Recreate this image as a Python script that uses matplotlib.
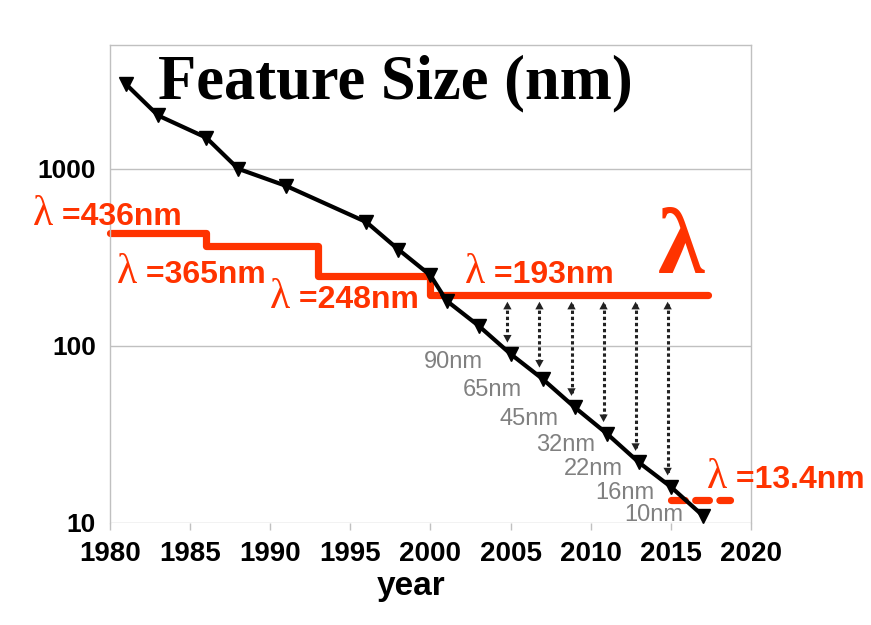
import numpy as np
import matplotlib
matplotlib.use('Agg')
import matplotlib.pyplot as plt

# feature size of the node (nm) vs year
years = [1981, 1983, 1986, 1988, 1991, 1996, 1998, 2000, 2001, 2003,
         2005, 2007, 2009, 2011, 2013, 2015, 2017]
feature_nm = [3000, 2000, 1500, 1000, 800, 500, 350, 250, 180, 130,
              90, 65, 45, 32, 22, 16, 11]

# labelled nodes (last seven points)
node_labels = ['90nm', '65nm', '45nm', '32nm', '22nm', '16nm', '10nm']

# lithography wavelength steps
litho_start = [1980, 1986, 1993, 2000]
litho_nm = [436, 365, 248, 193]
litho_end = 2017.3
litho_labels = ['=436nm', '=365nm', '=248nm', '=193nm']

# EUV
euv_years = [2015, 2018.7]
euv_nm = [13.4, 13.4]
euv_label = '=13.4nm'

# nodes compared against the 193nm line
arrow_years = [2005, 2007, 2009, 2011, 2013, 2015]

RED = '#FF3300'
GRID = '#C0C0C0'
SANS = 'Liberation Sans'
SERIF = 'Liberation Serif'

fig = plt.figure(figsize=(8.71, 6.25), dpi=100)
ax = fig.add_axes([0.1263, 0.1632, 0.7359, 0.7648])

ax.set_yscale('log')
ax.set_xlim(1980, 2020)
ax.set_ylim(10, 5000)

# frame and grid
for side in ['left', 'right', 'top']:
    ax.spines[side].set_color(GRID)
    ax.spines[side].set_linewidth(1)
ax.spines['bottom'].set_visible(False)
ax.set_yticks([10, 100, 1000])
ax.set_yticklabels(['10', '100', '1000'])
ax.yaxis.set_minor_locator(matplotlib.ticker.NullLocator())
ax.set_xticks(np.arange(1980, 2021, 5))
ax.tick_params(axis='x', direction='out', length=5, width=1, color=GRID,
               pad=8, labelsize=20)
ax.tick_params(axis='y', length=0, pad=10, labelsize=19)
for lab in ax.get_xticklabels() + ax.get_yticklabels():
    lab.set_family(SANS)
    lab.set_fontweight('bold')
ax.grid(True, axis='y', color=GRID, linewidth=1)
ax.set_axisbelow(True)

# wavelength step line
sx = litho_start + [litho_end]
sy = litho_nm + [litho_nm[-1]]
ax.step(sx, sy, where='post', color=RED, lw=5.2, solid_capstyle='round',
        solid_joinstyle='round', clip_on=False, zorder=2)
ax.plot(euv_years, euv_nm, color=RED, lw=5.2, dashes=(1.9, 1.45),
        dash_capstyle='round', clip_on=False, zorder=2)

# feature size line
ax.plot(years, feature_nm, color='black', lw=3, marker='v', markersize=10,
        clip_on=False, zorder=4)

# dotted double arrows between 193nm and the nodes
for yr in arrow_years:
    v = feature_nm[years.index(yr)]
    x = yr - 0.2
    top = litho_nm[-1] * 0.92
    bot = v * 1.16
    ax.plot([x, x], [top * 0.97, bot * 1.03], color='#222222', lw=2.2,
            dashes=(1.1, 0.9), dash_capstyle='butt', zorder=3)
    ax.annotate('', xy=(x, bot), xytext=(x, top),
                arrowprops=dict(arrowstyle='<|-|>,head_length=0.55,head_width=0.3',
                                lw=0, color='#222222', mutation_scale=10,
                                shrinkA=0, shrinkB=0), zorder=3)

# gray node labels
node_label_pos = [(2003.3, 75), (2005.7, 52), (2008.0, 35.8), (2010.3, 25.5),
                  (2012.0, 18.7), (2014.0, 13.7), (2015.8, 10.3)]
for lab, (lx, ly) in zip(node_labels, node_label_pos):
    ax.text(lx, ly, lab, ha='right', va='baseline', fontsize=17,
            family=SANS, color='#808080', zorder=5)


def lam_label(x, y, txt):
    t = ax.text(x, y, 'λ', fontsize=30, family=SERIF, color=RED,
                ha='left', va='baseline', clip_on=False, zorder=5)
    ax.annotate(' ' + txt, xy=(1, y), xycoords=(t, 'data'),
                ha='left', va='baseline', fontsize=23, family=SANS,
                fontweight='bold', color=RED, annotation_clip=False, zorder=5)


label_pos = [(1975.2, 483), (1980.45, 227), (1990.0, 164), (2002.15, 227)]
for lab, (lx, ly) in zip(litho_labels, label_pos):
    lam_label(lx, ly, lab)
lam_label(2017.25, 15.8, euv_label)

# big lambda
ax.text(2014.2, 258, 'λ', fontsize=68, family=SERIF, fontweight='bold',
        color=RED, ha='left', va='baseline', zorder=5)

# title inside the plot
ax.text(1983.0, 2480, 'Feature Size (nm)', fontsize=45, family=SERIF,
        fontweight='bold', color='black', ha='left', va='baseline', zorder=5)

ax.set_xlabel('year', fontsize=24, family=SANS, fontweight='bold')
ax.xaxis.label.set_va('baseline')
ax.xaxis.set_label_coords(0.47, -0.1506)

fig.savefig('out.png', dpi=100)
